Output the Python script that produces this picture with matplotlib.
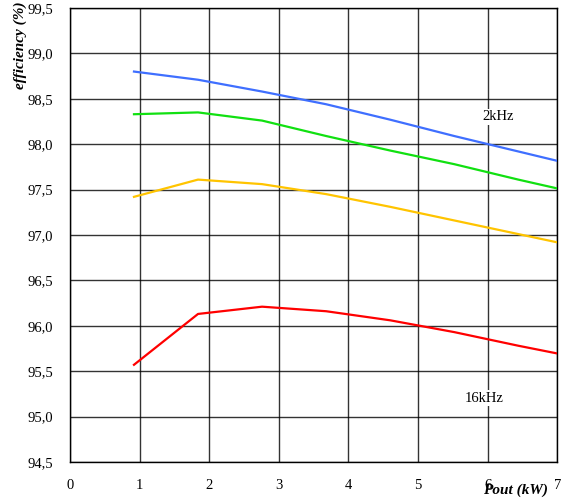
import matplotlib.pyplot as plt
from matplotlib.ticker import FuncFormatter

pout = [0.92, 1.84, 2.76, 3.68, 4.60, 5.52, 6.44, 7.36]
eff_2k = [98.80, 98.71, 98.58, 98.44, 98.27, 98.09, 97.92, 97.75]
eff_green = [98.33, 98.35, 98.26, 98.09, 97.93, 97.78, 97.61, 97.45]
eff_yellow = [97.42, 97.61, 97.56, 97.45, 97.31, 97.16, 97.01, 96.86]
eff_16k = [95.57, 96.13, 96.21, 96.16, 96.06, 95.93, 95.78, 95.64]

series = [
    (eff_2k, '#3f6fff'),
    (eff_green, '#11e011'),
    (eff_yellow, '#ffc400'),
    (eff_16k, '#ff0000'),
]

plt.rcParams['font.family'] = ['Liberation Serif', 'DejaVu Serif']

fig = plt.figure(figsize=(5.64, 5.01), dpi=100)
ax = fig.add_axes([0.124, 0.078, 0.864, 0.906])

for vals, col in series:
    ax.plot(pout, vals, color=col, linewidth=1.6, clip_on=True, zorder=3)

ax.set_xlim(0, 7)
ax.set_ylim(94.5, 99.5)
ax.set_xticks(range(0, 8))
ax.set_yticks([94.5 + 0.5 * i for i in range(11)])
ax.yaxis.set_major_formatter(FuncFormatter(lambda v, p: f"{v:.1f}".replace('.', ',')))
ax.grid(True, color='black', linewidth=1.0, alpha=0.8)
ax.tick_params(length=0, labelsize=10.5)
ax.tick_params(axis='x', pad=12)
ax.tick_params(axis='y', pad=12)
for s in ax.spines.values():
    s.set_linewidth(1.0)

ax.text(6.15, 98.3, '2kHz', fontsize=10.5, ha='center', va='center',
        bbox=dict(facecolor='white', edgecolor='none', pad=1))
ax.text(5.95, 95.2, '16kHz', fontsize=10.5, ha='center', va='center',
        bbox=dict(facecolor='white', edgecolor='none', pad=1))

fig.text(0.036, 0.998, 'efficiency (%)', rotation=90, ha='center', va='top',
         fontsize=11, fontweight='bold', fontstyle='italic')
fig.text(0.972, 0.022, 'Pout (kW)', ha='right', va='center',
         fontsize=11, fontweight='bold', fontstyle='italic')

fig.savefig('out.png', dpi=100)
